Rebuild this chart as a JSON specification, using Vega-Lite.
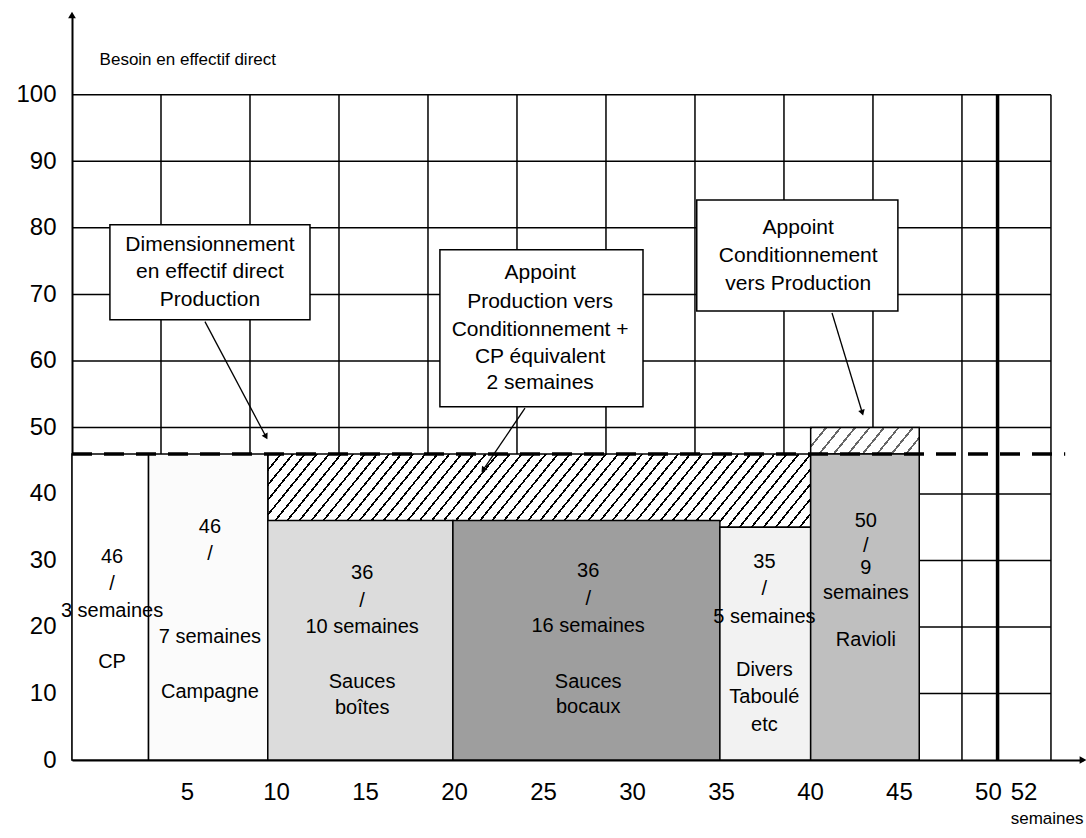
{
  "$schema": "https://vega.github.io/schema/vega-lite/v6.json",
  "width": 1011,
  "height": 745,
  "autosize": {"type": "none"},
  "padding": {"left": 72, "top": 15, "right": 3, "bottom": 78},
  "background": "#ffffff",
  "config": {"view": {"stroke": null}, "font": "Liberation Sans", "text": {"font": "Liberation Sans", "color": "#000"}},
  "datasets": {
    "grilleX": [{"semaine": 5}, {"semaine": 10}, {"semaine": 15}, {"semaine": 20}, {"semaine": 25}, {"semaine": 30}, {"semaine": 35}, {"semaine": 40}, {"semaine": 45}, {"semaine": 50}, {"semaine": 55}],
    "grilleY": [{"effectif": 10}, {"effectif": 20}, {"effectif": 30}, {"effectif": 40}, {"effectif": 50}, {"effectif": 60}, {"effectif": 70}, {"effectif": 80}, {"effectif": 90}, {"effectif": 100}],
    "barres": [
      {"produit": "CP", "debut": 0, "fin": 4.3, "effectif": 46},
      {"produit": "Campagne", "debut": 4.3, "fin": 11.0, "effectif": 46},
      {"produit": "Sauces boîtes", "debut": 11.0, "fin": 21.4, "effectif": 36},
      {"produit": "Sauces bocaux", "debut": 21.4, "fin": 36.4, "effectif": 36},
      {"produit": "Divers Taboulé etc", "debut": 36.4, "fin": 41.5, "effectif": 35},
      {"produit": "Ravioli", "debut": 41.5, "fin": 47.6, "effectif": 46}
    ],
    "appoints": [
      {"zone": "Production vers Conditionnement", "debut": 11.0, "fin": 41.5, "bas": 35, "haut": 46},
      {"zone": "Conditionnement vers Production", "debut": 41.5, "fin": 47.6, "bas": 46, "haut": 50}
    ],
    "etiquettes": [
      {"produit": "CP", "semaine": 2.25, "effectif": 30.5, "texte": "46"},
      {"produit": "CP", "semaine": 2.25, "effectif": 26.5, "texte": "/"},
      {"produit": "CP", "semaine": 2.25, "effectif": 22.4, "texte": "3 semaines"},
      {"produit": "CP", "semaine": 2.25, "effectif": 14.7, "texte": "CP"},
      {"produit": "Campagne", "semaine": 7.75, "effectif": 35.0, "texte": "46"},
      {"produit": "Campagne", "semaine": 7.75, "effectif": 31.0, "texte": "/"},
      {"produit": "Campagne", "semaine": 7.75, "effectif": 18.5, "texte": "7 semaines"},
      {"produit": "Campagne", "semaine": 7.75, "effectif": 10.2, "texte": "Campagne"},
      {"produit": "Sauces boîtes", "semaine": 16.3, "effectif": 28.1, "texte": "36"},
      {"produit": "Sauces boîtes", "semaine": 16.3, "effectif": 23.9, "texte": "/"},
      {"produit": "Sauces boîtes", "semaine": 16.3, "effectif": 20.0, "texte": "10 semaines"},
      {"produit": "Sauces boîtes", "semaine": 16.3, "effectif": 11.7, "texte": "Sauces"},
      {"produit": "Sauces boîtes", "semaine": 16.3, "effectif": 7.8, "texte": "boîtes"},
      {"produit": "Sauces bocaux", "semaine": 29.0, "effectif": 28.4, "texte": "36"},
      {"produit": "Sauces bocaux", "semaine": 29.0, "effectif": 24.2, "texte": "/"},
      {"produit": "Sauces bocaux", "semaine": 29.0, "effectif": 20.2, "texte": "16 semaines"},
      {"produit": "Sauces bocaux", "semaine": 29.0, "effectif": 11.7, "texte": "Sauces"},
      {"produit": "Sauces bocaux", "semaine": 29.0, "effectif": 8.0, "texte": "bocaux"},
      {"produit": "Divers Taboulé etc", "semaine": 38.9, "effectif": 29.8, "texte": "35"},
      {"produit": "Divers Taboulé etc", "semaine": 38.9, "effectif": 25.7, "texte": "/"},
      {"produit": "Divers Taboulé etc", "semaine": 38.9, "effectif": 21.5, "texte": "5 semaines"},
      {"produit": "Divers Taboulé etc", "semaine": 38.9, "effectif": 13.5, "texte": "Divers"},
      {"produit": "Divers Taboulé etc", "semaine": 38.9, "effectif": 9.5, "texte": "Taboulé"},
      {"produit": "Divers Taboulé etc", "semaine": 38.9, "effectif": 5.3, "texte": "etc"},
      {"produit": "Ravioli", "semaine": 44.6, "effectif": 35.9, "texte": "50"},
      {"produit": "Ravioli", "semaine": 44.6, "effectif": 32.2, "texte": "/"},
      {"produit": "Ravioli", "semaine": 44.6, "effectif": 28.9, "texte": "9"},
      {"produit": "Ravioli", "semaine": 44.6, "effectif": 25.1, "texte": "semaines"},
      {"produit": "Ravioli", "semaine": 44.6, "effectif": 18.0, "texte": "Ravioli"}
    ],
    "cadres": [
      {"cadre": "a", "debut": 2.13, "fin": 13.37, "bas": 66.2, "haut": 80.45},
      {"cadre": "b", "debut": 20.67, "fin": 32.08, "bas": 53.1, "haut": 76.7},
      {"cadre": "c", "debut": 35.1, "fin": 46.4, "bas": 67.5, "haut": 84.2}
    ],
    "textesCadres": [
      {"cadre": "a", "semaine": 7.75, "effectif": 77.4, "texte": "Dimensionnement"},
      {"cadre": "a", "semaine": 7.75, "effectif": 73.4, "texte": "en effectif direct"},
      {"cadre": "a", "semaine": 7.75, "effectif": 69.2, "texte": "Production"},
      {"cadre": "b", "semaine": 26.3, "effectif": 73.2, "texte": "Appoint"},
      {"cadre": "b", "semaine": 26.3, "effectif": 68.9, "texte": "Production vers"},
      {"cadre": "b", "semaine": 26.3, "effectif": 64.7, "texte": "Conditionnement +"},
      {"cadre": "b", "semaine": 26.3, "effectif": 60.6, "texte": "CP équivalent"},
      {"cadre": "b", "semaine": 26.3, "effectif": 56.7, "texte": "2 semaines"},
      {"cadre": "c", "semaine": 40.8, "effectif": 80.0, "texte": "Appoint"},
      {"cadre": "c", "semaine": 40.8, "effectif": 75.8, "texte": "Conditionnement"},
      {"cadre": "c", "semaine": 40.8, "effectif": 71.6, "texte": "vers Production"}
    ],
    "fleches": [
      {"cadre": "a", "x0": 7.47, "y0": 65.9, "x1": 10.9, "y1": 48.6},
      {"cadre": "b", "x0": 25.45, "y0": 52.9, "x1": 23.1, "y1": 43.6},
      {"cadre": "c", "x0": 42.7, "y0": 67.2, "x1": 44.4, "y1": 52.2}
    ]
  },
  "layer": [
    {
      "data": {"name": "grilleX"},
      "mark": {"type": "rule", "color": "#000", "strokeWidth": 1.5},
      "encoding": {
        "x": {"field": "semaine", "type": "quantitative", "scale": {"domain": [0, 56.8], "nice": false, "zero": false},
          "axis": {"values": [5, 10, 15, 20, 25, 30, 35, 40, 45, 50, 52], "ticks": false, "grid": false, "domainColor": "#000", "domainWidth": 2, "labelFontSize": 24, "labelColor": "#000", "labelPadding": 20, "labelOffset": 26, "labelFont": "Liberation Sans", "labelFlush": false, "labelOverlap": false, "title": "semaines", "titleFont": "Liberation Sans", "titleFontSize": 17, "titleFontWeight": "normal", "titleAnchor": "end", "titlePadding": 6, "titleColor": "#000"}},
        "y": {"datum": 0, "type": "quantitative", "scale": {"domain": [0, 112], "nice": false, "zero": false},
          "axis": {"values": [0, 10, 20, 30, 40, 50, 60, 70, 80, 90, 100], "ticks": false, "grid": false, "domainColor": "#000", "domainWidth": 2, "labelFontSize": 24, "labelColor": "#000", "labelPadding": 16, "labelFont": "Liberation Sans", "labelFlush": false, "labelOverlap": false, "title": null}},
        "y2": {"datum": 100}
      }
    },
    {
      "data": {"name": "grilleY"},
      "mark": {"type": "rule", "color": "#000", "strokeWidth": 1.5},
      "encoding": {
        "x": {"datum": 0, "type": "quantitative", "title": "semaines"},
        "x2": {"datum": 55},
        "y": {"field": "effectif", "type": "quantitative", "title": null}
      }
    },
    {
      "data": {"name": "appoints"},
      "transform": [{"filter": "datum.zone === 'Production vers Conditionnement'"}],
      "mark": {"type": "rect", "stroke": "#000", "strokeWidth": 1.5,
        "fill": {"gradient": "linear", "x1": 0, "y1": 0, "x2": 1.096, "y2": 0.1195, "stops": [
          {"offset": 0, "color": "#000"}, {"offset": 0.0036, "color": "#000"}, {"offset": 0.0036, "color": "#fff"}, {"offset": 0.02, "color": "#fff"},
          {"offset": 0.02, "color": "#000"}, {"offset": 0.0236, "color": "#000"}, {"offset": 0.0236, "color": "#fff"}, {"offset": 0.04, "color": "#fff"},
          {"offset": 0.04, "color": "#000"}, {"offset": 0.0436, "color": "#000"}, {"offset": 0.0436, "color": "#fff"}, {"offset": 0.06, "color": "#fff"},
          {"offset": 0.06, "color": "#000"}, {"offset": 0.0636, "color": "#000"}, {"offset": 0.0636, "color": "#fff"}, {"offset": 0.08, "color": "#fff"},
          {"offset": 0.08, "color": "#000"}, {"offset": 0.0836, "color": "#000"}, {"offset": 0.0836, "color": "#fff"}, {"offset": 0.10, "color": "#fff"},
          {"offset": 0.10, "color": "#000"}, {"offset": 0.1036, "color": "#000"}, {"offset": 0.1036, "color": "#fff"}, {"offset": 0.12, "color": "#fff"},
          {"offset": 0.12, "color": "#000"}, {"offset": 0.1236, "color": "#000"}, {"offset": 0.1236, "color": "#fff"}, {"offset": 0.14, "color": "#fff"},
          {"offset": 0.14, "color": "#000"}, {"offset": 0.1436, "color": "#000"}, {"offset": 0.1436, "color": "#fff"}, {"offset": 0.16, "color": "#fff"},
          {"offset": 0.16, "color": "#000"}, {"offset": 0.1636, "color": "#000"}, {"offset": 0.1636, "color": "#fff"}, {"offset": 0.18, "color": "#fff"},
          {"offset": 0.18, "color": "#000"}, {"offset": 0.1836, "color": "#000"}, {"offset": 0.1836, "color": "#fff"}, {"offset": 0.20, "color": "#fff"},
          {"offset": 0.20, "color": "#000"}, {"offset": 0.2036, "color": "#000"}, {"offset": 0.2036, "color": "#fff"}, {"offset": 0.22, "color": "#fff"},
          {"offset": 0.22, "color": "#000"}, {"offset": 0.2236, "color": "#000"}, {"offset": 0.2236, "color": "#fff"}, {"offset": 0.24, "color": "#fff"},
          {"offset": 0.24, "color": "#000"}, {"offset": 0.2436, "color": "#000"}, {"offset": 0.2436, "color": "#fff"}, {"offset": 0.26, "color": "#fff"},
          {"offset": 0.26, "color": "#000"}, {"offset": 0.2636, "color": "#000"}, {"offset": 0.2636, "color": "#fff"}, {"offset": 0.28, "color": "#fff"},
          {"offset": 0.28, "color": "#000"}, {"offset": 0.2836, "color": "#000"}, {"offset": 0.2836, "color": "#fff"}, {"offset": 0.30, "color": "#fff"},
          {"offset": 0.30, "color": "#000"}, {"offset": 0.3036, "color": "#000"}, {"offset": 0.3036, "color": "#fff"}, {"offset": 0.32, "color": "#fff"},
          {"offset": 0.32, "color": "#000"}, {"offset": 0.3236, "color": "#000"}, {"offset": 0.3236, "color": "#fff"}, {"offset": 0.34, "color": "#fff"},
          {"offset": 0.34, "color": "#000"}, {"offset": 0.3436, "color": "#000"}, {"offset": 0.3436, "color": "#fff"}, {"offset": 0.36, "color": "#fff"},
          {"offset": 0.36, "color": "#000"}, {"offset": 0.3636, "color": "#000"}, {"offset": 0.3636, "color": "#fff"}, {"offset": 0.38, "color": "#fff"},
          {"offset": 0.38, "color": "#000"}, {"offset": 0.3836, "color": "#000"}, {"offset": 0.3836, "color": "#fff"}, {"offset": 0.40, "color": "#fff"},
          {"offset": 0.40, "color": "#000"}, {"offset": 0.4036, "color": "#000"}, {"offset": 0.4036, "color": "#fff"}, {"offset": 0.42, "color": "#fff"},
          {"offset": 0.42, "color": "#000"}, {"offset": 0.4236, "color": "#000"}, {"offset": 0.4236, "color": "#fff"}, {"offset": 0.44, "color": "#fff"},
          {"offset": 0.44, "color": "#000"}, {"offset": 0.4436, "color": "#000"}, {"offset": 0.4436, "color": "#fff"}, {"offset": 0.46, "color": "#fff"},
          {"offset": 0.46, "color": "#000"}, {"offset": 0.4636, "color": "#000"}, {"offset": 0.4636, "color": "#fff"}, {"offset": 0.48, "color": "#fff"},
          {"offset": 0.48, "color": "#000"}, {"offset": 0.4836, "color": "#000"}, {"offset": 0.4836, "color": "#fff"}, {"offset": 0.50, "color": "#fff"},
          {"offset": 0.50, "color": "#000"}, {"offset": 0.5036, "color": "#000"}, {"offset": 0.5036, "color": "#fff"}, {"offset": 0.52, "color": "#fff"},
          {"offset": 0.52, "color": "#000"}, {"offset": 0.5236, "color": "#000"}, {"offset": 0.5236, "color": "#fff"}, {"offset": 0.54, "color": "#fff"},
          {"offset": 0.54, "color": "#000"}, {"offset": 0.5436, "color": "#000"}, {"offset": 0.5436, "color": "#fff"}, {"offset": 0.56, "color": "#fff"},
          {"offset": 0.56, "color": "#000"}, {"offset": 0.5636, "color": "#000"}, {"offset": 0.5636, "color": "#fff"}, {"offset": 0.58, "color": "#fff"},
          {"offset": 0.58, "color": "#000"}, {"offset": 0.5836, "color": "#000"}, {"offset": 0.5836, "color": "#fff"}, {"offset": 0.60, "color": "#fff"},
          {"offset": 0.60, "color": "#000"}, {"offset": 0.6036, "color": "#000"}, {"offset": 0.6036, "color": "#fff"}, {"offset": 0.62, "color": "#fff"},
          {"offset": 0.62, "color": "#000"}, {"offset": 0.6236, "color": "#000"}, {"offset": 0.6236, "color": "#fff"}, {"offset": 0.64, "color": "#fff"},
          {"offset": 0.64, "color": "#000"}, {"offset": 0.6436, "color": "#000"}, {"offset": 0.6436, "color": "#fff"}, {"offset": 0.66, "color": "#fff"},
          {"offset": 0.66, "color": "#000"}, {"offset": 0.6636, "color": "#000"}, {"offset": 0.6636, "color": "#fff"}, {"offset": 0.68, "color": "#fff"},
          {"offset": 0.68, "color": "#000"}, {"offset": 0.6836, "color": "#000"}, {"offset": 0.6836, "color": "#fff"}, {"offset": 0.70, "color": "#fff"},
          {"offset": 0.70, "color": "#000"}, {"offset": 0.7036, "color": "#000"}, {"offset": 0.7036, "color": "#fff"}, {"offset": 0.72, "color": "#fff"},
          {"offset": 0.72, "color": "#000"}, {"offset": 0.7236, "color": "#000"}, {"offset": 0.7236, "color": "#fff"}, {"offset": 0.74, "color": "#fff"},
          {"offset": 0.74, "color": "#000"}, {"offset": 0.7436, "color": "#000"}, {"offset": 0.7436, "color": "#fff"}, {"offset": 0.76, "color": "#fff"},
          {"offset": 0.76, "color": "#000"}, {"offset": 0.7636, "color": "#000"}, {"offset": 0.7636, "color": "#fff"}, {"offset": 0.78, "color": "#fff"},
          {"offset": 0.78, "color": "#000"}, {"offset": 0.7836, "color": "#000"}, {"offset": 0.7836, "color": "#fff"}, {"offset": 0.80, "color": "#fff"},
          {"offset": 0.80, "color": "#000"}, {"offset": 0.8036, "color": "#000"}, {"offset": 0.8036, "color": "#fff"}, {"offset": 0.82, "color": "#fff"},
          {"offset": 0.82, "color": "#000"}, {"offset": 0.8236, "color": "#000"}, {"offset": 0.8236, "color": "#fff"}, {"offset": 0.84, "color": "#fff"},
          {"offset": 0.84, "color": "#000"}, {"offset": 0.8436, "color": "#000"}, {"offset": 0.8436, "color": "#fff"}, {"offset": 0.86, "color": "#fff"},
          {"offset": 0.86, "color": "#000"}, {"offset": 0.8636, "color": "#000"}, {"offset": 0.8636, "color": "#fff"}, {"offset": 0.88, "color": "#fff"},
          {"offset": 0.88, "color": "#000"}, {"offset": 0.8836, "color": "#000"}, {"offset": 0.8836, "color": "#fff"}, {"offset": 0.90, "color": "#fff"},
          {"offset": 0.90, "color": "#000"}, {"offset": 0.9036, "color": "#000"}, {"offset": 0.9036, "color": "#fff"}, {"offset": 0.92, "color": "#fff"},
          {"offset": 0.92, "color": "#000"}, {"offset": 0.9236, "color": "#000"}, {"offset": 0.9236, "color": "#fff"}, {"offset": 0.94, "color": "#fff"},
          {"offset": 0.94, "color": "#000"}, {"offset": 0.9436, "color": "#000"}, {"offset": 0.9436, "color": "#fff"}, {"offset": 0.96, "color": "#fff"},
          {"offset": 0.96, "color": "#000"}, {"offset": 0.9636, "color": "#000"}, {"offset": 0.9636, "color": "#fff"}, {"offset": 0.98, "color": "#fff"},
          {"offset": 0.98, "color": "#000"}, {"offset": 0.9836, "color": "#000"}, {"offset": 0.9836, "color": "#fff"}, {"offset": 1, "color": "#fff"}
        ]}},
      "encoding": {
        "x": {"field": "debut", "type": "quantitative", "title": "semaines"},
        "x2": {"field": "fin"},
        "y": {"field": "bas", "type": "quantitative", "title": null},
        "y2": {"field": "haut"}
      }
    },
    {
      "data": {"name": "appoints"},
      "transform": [{"filter": "datum.zone === 'Conditionnement vers Production'"}],
      "mark": {"type": "rect", "stroke": "#000", "strokeWidth": 1.5,
        "fill": {"gradient": "linear", "x1": 0, "y1": 0, "x2": 1.1533, "y2": 0.2295, "stops": [
          {"offset": 0, "color": "#666"}, {"offset": 0.018, "color": "#666"}, {"offset": 0.018, "color": "#fff"}, {"offset": 0.1111, "color": "#fff"},
          {"offset": 0.1111, "color": "#666"}, {"offset": 0.1291, "color": "#666"}, {"offset": 0.1291, "color": "#fff"}, {"offset": 0.2222, "color": "#fff"},
          {"offset": 0.2222, "color": "#666"}, {"offset": 0.2402, "color": "#666"}, {"offset": 0.2402, "color": "#fff"}, {"offset": 0.3333, "color": "#fff"},
          {"offset": 0.3333, "color": "#666"}, {"offset": 0.3513, "color": "#666"}, {"offset": 0.3513, "color": "#fff"}, {"offset": 0.4444, "color": "#fff"},
          {"offset": 0.4444, "color": "#666"}, {"offset": 0.4624, "color": "#666"}, {"offset": 0.4624, "color": "#fff"}, {"offset": 0.5556, "color": "#fff"},
          {"offset": 0.5556, "color": "#666"}, {"offset": 0.5736, "color": "#666"}, {"offset": 0.5736, "color": "#fff"}, {"offset": 0.6667, "color": "#fff"},
          {"offset": 0.6667, "color": "#666"}, {"offset": 0.6847, "color": "#666"}, {"offset": 0.6847, "color": "#fff"}, {"offset": 0.7778, "color": "#fff"},
          {"offset": 0.7778, "color": "#666"}, {"offset": 0.7958, "color": "#666"}, {"offset": 0.7958, "color": "#fff"}, {"offset": 0.8889, "color": "#fff"},
          {"offset": 0.8889, "color": "#666"}, {"offset": 0.9069, "color": "#666"}, {"offset": 0.9069, "color": "#fff"}, {"offset": 1, "color": "#fff"}
        ]}},
      "encoding": {
        "x": {"field": "debut", "type": "quantitative", "title": "semaines"},
        "x2": {"field": "fin"},
        "y": {"field": "bas", "type": "quantitative", "title": null},
        "y2": {"field": "haut"}
      }
    },
    {
      "data": {"name": "barres"},
      "mark": {"type": "rect", "stroke": "#000", "strokeWidth": 1.5},
      "encoding": {
        "x": {"field": "debut", "type": "quantitative", "title": "semaines"},
        "x2": {"field": "fin"},
        "y": {"field": "effectif", "type": "quantitative", "title": null},
        "y2": {"datum": 0},
        "fill": {"field": "produit", "type": "nominal", "legend": null,
          "scale": {"domain": ["CP", "Campagne", "Sauces boîtes", "Sauces bocaux", "Divers Taboulé etc", "Ravioli"],
            "range": ["#ffffff", "#fbfbfb", "#dcdcdc", "#9e9e9e", "#f2f2f2", "#bfbfbf"]}}
      }
    },
    {
      "data": {"values": [{}]},
      "mark": {"type": "rule", "color": "#000", "strokeWidth": 3.5, "strokeDash": [20, 12]},
      "encoding": {
        "x": {"datum": 0, "type": "quantitative"},
        "x2": {"datum": 55.8},
        "y": {"datum": 46, "type": "quantitative"}
      }
    },
    {
      "data": {"values": [{}]},
      "mark": {"type": "rule", "color": "#000", "strokeWidth": 3.5},
      "encoding": {
        "x": {"datum": 52, "type": "quantitative"},
        "y": {"datum": 0, "type": "quantitative"},
        "y2": {"datum": 100}
      }
    },
    {
      "data": {"name": "cadres"},
      "mark": {"type": "rect", "fill": "#fff", "stroke": "#000", "strokeWidth": 1.5},
      "encoding": {
        "x": {"field": "debut", "type": "quantitative", "title": "semaines"},
        "x2": {"field": "fin"},
        "y": {"field": "bas", "type": "quantitative", "title": null},
        "y2": {"field": "haut"}
      }
    },
    {
      "data": {"name": "fleches"},
      "mark": {"type": "rule", "color": "#000", "strokeWidth": 1.3},
      "encoding": {
        "x": {"field": "x0", "type": "quantitative", "title": "semaines"},
        "x2": {"field": "x1"},
        "y": {"field": "y0", "type": "quantitative", "title": null},
        "y2": {"field": "y1"}
      }
    },
    {
      "data": {"name": "fleches"},
      "transform": [{"filter": "datum.cadre === 'a'"}],
      "mark": {"type": "point", "shape": "triangle-down", "filled": true, "color": "#000", "size": 45, "angle": -28, "opacity": 1},
      "encoding": {
        "x": {"field": "x1", "type": "quantitative", "title": "semaines"},
        "y": {"field": "y1", "type": "quantitative", "title": null}
      }
    },
    {
      "data": {"name": "fleches"},
      "transform": [{"filter": "datum.cadre === 'b'"}],
      "mark": {"type": "point", "shape": "triangle-down", "filled": true, "color": "#000", "size": 45, "angle": 34, "opacity": 1},
      "encoding": {
        "x": {"field": "x1", "type": "quantitative", "title": "semaines"},
        "y": {"field": "y1", "type": "quantitative", "title": null}
      }
    },
    {
      "data": {"name": "fleches"},
      "transform": [{"filter": "datum.cadre === 'c'"}],
      "mark": {"type": "point", "shape": "triangle-down", "filled": true, "color": "#000", "size": 45, "angle": -17, "opacity": 1},
      "encoding": {
        "x": {"field": "x1", "type": "quantitative", "title": "semaines"},
        "y": {"field": "y1", "type": "quantitative", "title": null}
      }
    },
    {
      "data": {"name": "etiquettes"},
      "mark": {"type": "text", "fontSize": 20, "align": "center", "baseline": "middle", "color": "#000"},
      "encoding": {
        "x": {"field": "semaine", "type": "quantitative", "title": "semaines"},
        "y": {"field": "effectif", "type": "quantitative", "title": null},
        "text": {"field": "texte", "type": "nominal"}
      }
    },
    {
      "data": {"name": "textesCadres"},
      "mark": {"type": "text", "fontSize": 21, "align": "center", "baseline": "middle", "color": "#000"},
      "encoding": {
        "x": {"field": "semaine", "type": "quantitative", "title": "semaines"},
        "y": {"field": "effectif", "type": "quantitative", "title": null},
        "text": {"field": "texte", "type": "nominal"}
      }
    },
    {
      "data": {"values": [{"texte": "Besoin en effectif direct", "semaine": 1.55, "effectif": 105.3}]},
      "mark": {"type": "text", "fontSize": 17, "align": "left", "baseline": "middle", "color": "#000"},
      "encoding": {
        "x": {"field": "semaine", "type": "quantitative", "title": "semaines"},
        "y": {"field": "effectif", "type": "quantitative", "title": null},
        "text": {"field": "texte", "type": "nominal"}
      }
    },
    {
      "data": {"values": [{}]},
      "mark": {"type": "point", "shape": "triangle-up", "filled": true, "color": "#000", "size": 60, "opacity": 1},
      "encoding": {
        "x": {"datum": 0, "type": "quantitative"},
        "y": {"datum": 112, "type": "quantitative"}
      }
    },
    {
      "data": {"values": [{}]},
      "mark": {"type": "point", "shape": "triangle-right", "filled": true, "color": "#000", "size": 60, "opacity": 1},
      "encoding": {
        "x": {"datum": 56.8, "type": "quantitative"},
        "y": {"datum": 0, "type": "quantitative"}
      }
    }
  ]
}
